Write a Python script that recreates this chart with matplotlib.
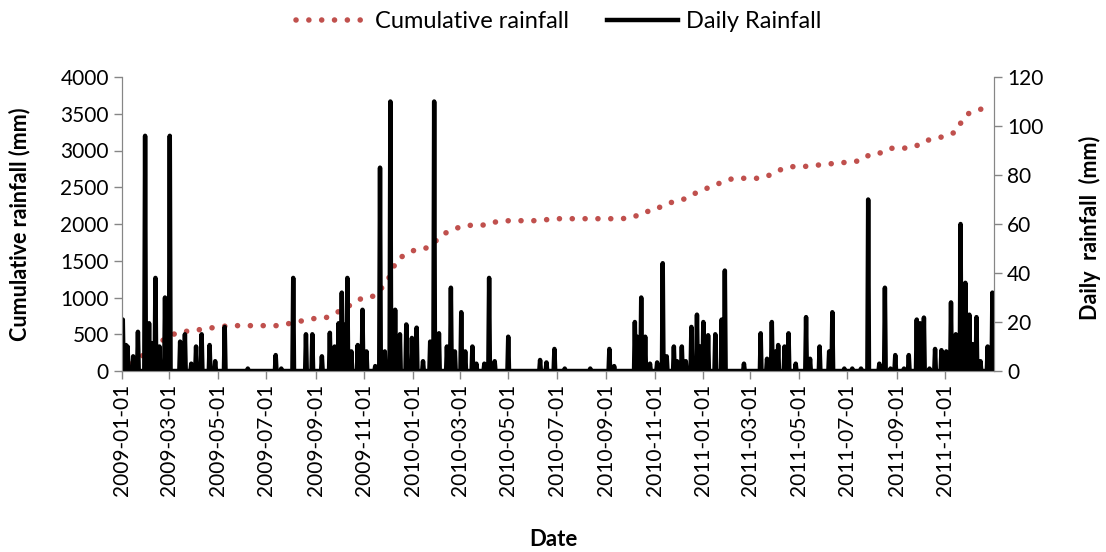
import numpy as np
import pandas as pd
import matplotlib
matplotlib.use("Agg")
import matplotlib.pyplot as plt
import matplotlib.dates as mdates

plt.rcParams['font.family'] = ['Lato', 'DejaVu Sans']

START = pd.Timestamp("2009-01-01")
END = pd.Timestamp("2012-01-01")

# daily rainfall: day number counted from 2009-01-01, value in mm
rain_day = [1, 5, 7, 14, 20, 29, 34, 37, 42, 47, 54, 60, 73, 79, 87, 93, 100, 110, 117, 129,
            158, 193, 200, 215, 231, 239, 251, 261, 267, 272, 276, 278, 283, 288, 296, 302,
            307, 318, 324, 330, 337, 343, 349, 357, 364, 370, 378, 387, 392, 398, 408, 413,
            418, 426, 431, 440, 445, 455, 461, 468, 485, 525, 533, 543, 556, 588, 612, 618,
            644, 647, 652, 657, 663, 672, 679, 684, 693, 697, 703, 708, 715, 722, 726, 730,
            736, 745, 753, 757, 781, 802, 810, 816, 821, 824, 832, 837, 846, 859, 864, 876,
            888, 892, 907, 917, 928, 937, 951, 958, 965, 971, 982, 988, 998, 1002, 1007,
            1014, 1021, 1029, 1035, 1041, 1047, 1053, 1059, 1064, 1068, 1073, 1078, 1087, 1093]
rain_mm = [21, 10.6, 10, 6, 16, 96, 19.5, 11.4, 38, 10, 30, 96, 12, 15, 3, 10, 15, 10.6, 4, 18,
           1, 6.5, 1, 38, 15, 15, 6, 15.6, 10, 19.5, 32, 19, 38, 8, 10.6, 25,
           8, 2, 83, 8, 110, 25, 15, 19, 13.5, 17.7, 4, 12, 110, 15.4, 10, 34,
           8, 24, 8, 10, 3, 3, 38, 4, 14, 4.5, 3.5, 9, 1, 1, 9, 2,
           20, 14, 30, 14, 3, 3.5, 44, 6, 10, 4, 10, 4, 18, 23, 10, 20,
           14.6, 15, 21, 41, 3, 15.4, 5, 20, 8, 10.6, 10, 15.4, 3, 22, 5, 10,
           8, 24, 1, 1, 1, 70, 3, 34, 1, 6.5, 1, 6.5, 21, 19.5, 21.8,
           1, 9, 8.5, 8, 28, 15, 60, 36, 23, 11, 22, 4, 10, 32]

# cumulative rainfall
cum_day = [0, 31, 59, 75, 90, 104, 118, 134, 197, 225, 240, 256, 268, 290, 303, 318, 334, 345,
           358, 370, 385, 403, 414, 428, 442, 458, 470, 486, 517, 548, 628, 643, 654, 668,
           680, 693, 706, 717, 729, 742, 755, 768, 800, 814, 826, 840, 855, 870, 885, 900,
           916, 930, 939, 954, 965, 981, 996, 1007, 1021, 1034, 1047, 1053, 1061, 1074, 1087]
cum_mm = [0, 250, 480, 535, 548, 576, 594, 617, 617, 680, 712, 725, 785, 916, 1003, 1020, 1238, 1510,
          1601, 1656, 1678, 1860, 1918, 1973, 1986, 1986, 2031, 2045, 2045, 2072, 2072, 2095, 2163, 2181,
          2259, 2304, 2340, 2404, 2463, 2517, 2576, 2622, 2622, 2667, 2735, 2780, 2780, 2798, 2812, 2834,
          2840, 2871, 2948, 2970, 3030, 3030, 3052, 3129, 3161, 3197, 3252, 3370, 3493, 3551, 3583]

n_days = (END - START).days
days = pd.date_range(START, periods=n_days, freq="D")
daily = np.zeros(n_days)
daily[rain_day] = rain_mm
cum_dates = START + pd.to_timedelta(cum_day, unit="D")

tick_dates = pd.date_range("2009-01-01", "2011-11-01", freq="2MS")

red = '#C0504D'
grey = '#868686'

fig = plt.figure(figsize=(11.06, 5.52), dpi=100)
ax = fig.add_axes([122 / 1106, 1 - 371 / 552, 872 / 1106, 294 / 552])
ax2 = ax.twinx()

l1, = ax.plot(cum_dates, cum_mm, color=red, lw=4, linestyle=(0, (0.01, 2.3)),
              dash_capstyle='round', label='Cumulative rainfall')
l2, = ax2.plot(days, daily, color='black', lw=3.2, label='Daily Rainfall')

ax.set_xlim(START, END)
ax.set_ylim(0, 4000)
ax2.set_ylim(0, 120)
ax.set_yticks(np.arange(0, 4001, 500))
ax2.set_yticks(np.arange(0, 121, 20))
ax.set_xticks(tick_dates)
ax.xaxis.set_major_formatter(mdates.DateFormatter('%Y-%m-%d'))

for a in (ax, ax2):
    a.spines['top'].set_visible(False)
    for s in ('left', 'right', 'bottom'):
        a.spines[s].set_color(grey)
    a.tick_params(colors=grey, labelcolor='black', labelsize=15, length=6, width=1)
ax.tick_params(axis='x', rotation=90, pad=3)

fig.text(20 / 1106, 1 - 224 / 552, 'Cumulative rainfall (mm)', rotation=90,
         ha='center', va='center', fontsize=15.5, fontweight='bold')
fig.text(1090 / 1106, 1 - 228 / 552, 'Daily  rainfall  (mm)', rotation=90,
         ha='center', va='center', fontsize=15.5, fontweight='bold')
fig.text(553 / 1106, 1 - 540 / 552, 'Date', ha='center', va='center',
         fontsize=16, fontweight='bold')

fig.legend(handles=[l1, l2], loc='center', bbox_to_anchor=(0.505, 1 - 22 / 552), ncol=2,
           frameon=False, fontsize=17, handlelength=3.0, handletextpad=0.35, columnspacing=1.6)

fig.savefig('out.png', dpi=100)
